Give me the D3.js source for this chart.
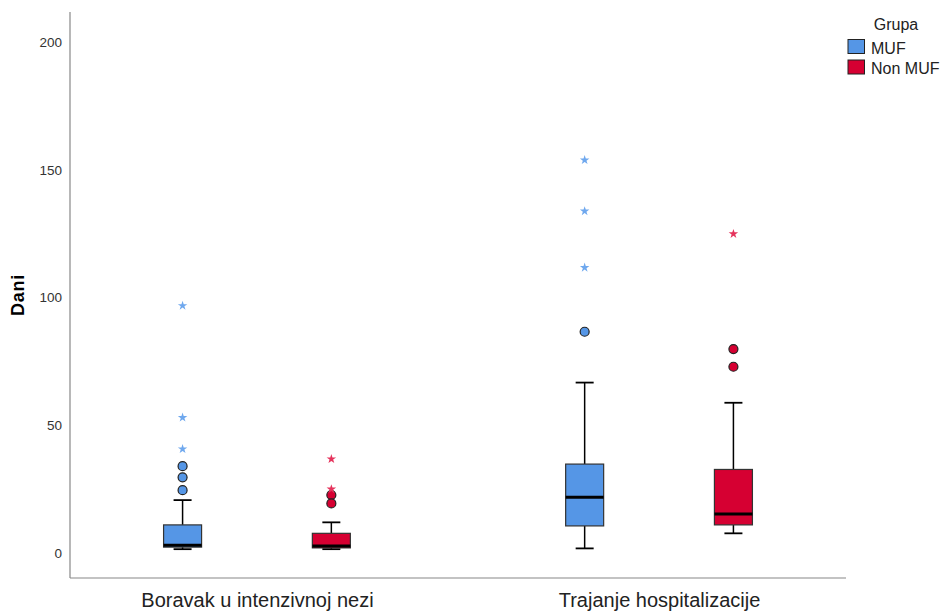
<!DOCTYPE html>
<html><head><meta charset="utf-8">
<script src="https://cdn.jsdelivr.net/npm/d3@7"></script>
<style>body{margin:0;background:#fff;} text{font-family:"Liberation Sans",Arial,sans-serif;}</style>
</head><body>
<svg id="chart" width="946" height="615"></svg>
<script>
const categories = ["Boravak u intenzivnoj nezi", "Trajanje hospitalizacije"];
const groups = ["MUF", "Non MUF"];
const colors = ["#5596E6", "#D60032"];
const starColors = ["#6FA8EE", "#E5335C"];
const yTicks = [0, 50, 100, 150, 200];
// box statistics per category, per group: [whiskerLow, q1, median, q3, whiskerHigh]
const boxMUF    = [[1.5, 2.3, 3.0, 11.0, 20.7], [1.8, 10.6, 21.8, 34.8, 66.7]];
const boxNonMUF = [[1.5, 2.0, 2.7, 7.7, 12.0], [7.7, 11.0, 15.3, 32.7, 58.8]];
// outliers (circles) and extremes (stars)
const outMUF    = [[34, 29.6, 24.6], [86.6]];
const outNonMUF = [[22.7, 19.4], [79.8, 72.9]];
const extMUF    = [[96.8, 53, 40.7], [153.8, 133.8, 111.7]];
const extNonMUF = [[36.8, 25], [124.9]];

const svg = d3.select("#chart");
const mLeft = 70, mRight = 846, mTop = 12, mBottom = 578;
const y = d3.scaleLinear().domain([0, 200]).range([553, 42]);
const x = d3.scalePoint().domain(categories).range([mLeft, mRight]).padding(0.465);
const step = x.step();
const xs = d3.scalePoint().domain(groups).range([-0.185 * step, 0.185 * step]);
const boxW = 38, capW = 18;

// axes frame
svg.append("line").attr("x1", mLeft).attr("x2", mLeft).attr("y1", mTop).attr("y2", mBottom).attr("stroke", "#888").attr("stroke-width", 1.2);
svg.append("line").attr("x1", mLeft).attr("x2", mRight).attr("y1", mBottom).attr("y2", mBottom).attr("stroke", "#888").attr("stroke-width", 1.2);

const yAxis = d3.axisLeft(y).tickValues(yTicks).tickSize(0).tickPadding(8);
const gy = svg.append("g").attr("transform", `translate(${mLeft},0)`).call(yAxis);
gy.select(".domain").remove();
gy.selectAll("text").attr("font-size", 13.5).attr("fill", "#333").attr("font-family", "Liberation Sans, Arial, sans-serif");

const xAxis = d3.axisBottom(x).tickSize(0).tickPadding(15);
const gx = svg.append("g").attr("transform", `translate(0,${mBottom})`).call(xAxis);
gx.select(".domain").remove();
gx.selectAll("text").attr("font-size", 20).attr("fill", "#222").attr("font-family", "Liberation Sans, Arial, sans-serif");

svg.append("text").attr("transform", `translate(24,295) rotate(-90)`).attr("text-anchor", "middle")
  .attr("font-size", 18).attr("font-weight", "bold").attr("letter-spacing", 0.8).attr("fill", "#000").text("Dani");

const boxes = [boxMUF, boxNonMUF], outs = [outMUF, outNonMUF], exts = [extMUF, extNonMUF];
groups.forEach((g, gi) => {
  categories.forEach((c, ci) => {
    const cx = x(c) + xs(g);
    const [wl, q1, med, q3, wh] = boxes[gi][ci];
    const gg = svg.append("g");
    gg.append("line").attr("x1", cx).attr("x2", cx).attr("y1", y(q3)).attr("y2", y(wh)).attr("stroke", "#000").attr("stroke-width", 1.5);
    gg.append("line").attr("x1", cx).attr("x2", cx).attr("y1", y(q1)).attr("y2", y(wl)).attr("stroke", "#000").attr("stroke-width", 1.5);
    gg.append("line").attr("x1", cx - capW / 2).attr("x2", cx + capW / 2).attr("y1", y(wh)).attr("y2", y(wh)).attr("stroke", "#000").attr("stroke-width", 1.8);
    gg.append("line").attr("x1", cx - capW / 2).attr("x2", cx + capW / 2).attr("y1", y(wl)).attr("y2", y(wl)).attr("stroke", "#000").attr("stroke-width", 1.8);
    gg.append("rect").attr("x", cx - boxW / 2).attr("width", boxW).attr("y", y(q3)).attr("height", y(q1) - y(q3))
      .attr("fill", colors[gi]).attr("stroke", "#333").attr("stroke-width", 1.2);
    gg.append("line").attr("x1", cx - boxW / 2).attr("x2", cx + boxW / 2).attr("y1", y(med)).attr("y2", y(med)).attr("stroke", "#000").attr("stroke-width", 3);
    outs[gi][ci].forEach(v => {
      gg.append("circle").attr("cx", cx).attr("cy", y(v)).attr("r", 4.5).attr("fill", colors[gi]).attr("stroke", "#222").attr("stroke-width", 1.2);
    });
    exts[gi][ci].forEach(v => {
      gg.append("path").attr("d", d3.symbol(d3.symbolStar, 28)()).attr("transform", `translate(${cx},${y(v)})`).attr("fill", starColors[gi]);
    });
  });
});

// legend
const lg = svg.append("g");
lg.append("text").attr("x", 896).attr("y", 30).attr("text-anchor", "middle").attr("font-size", 16).attr("fill", "#222").text("Grupa");
groups.forEach((g, i) => {
  const yy = 39.5 + i * 20.5;
  lg.append("rect").attr("x", 848).attr("y", yy).attr("width", 16.5).attr("height", 14).attr("fill", colors[i]).attr("stroke", "#222").attr("stroke-width", 1);
  lg.append("text").attr("x", 871).attr("y", yy + 14).attr("font-size", 16).attr("fill", "#222").text(g);
});
</script>
</body></html>
